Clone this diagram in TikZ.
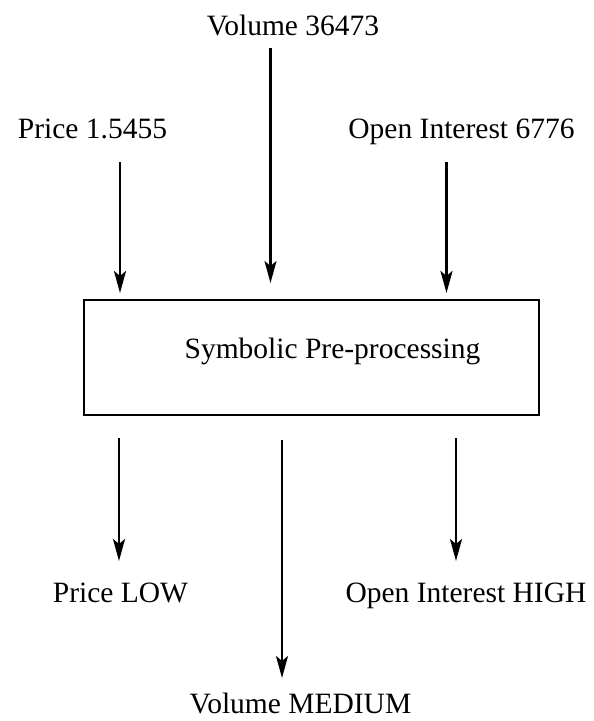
\documentclass[tikz,border=0pt]{standalone}
\usepackage{fontspec}
\setmainfont{Liberation Serif}
\usetikzlibrary{arrows.meta}
\begin{document}
\begin{tikzpicture}[x=1pt,y=-1pt,
  label/.style={inner sep=0pt,anchor=base,font=\fontsize{29.5}{34}\selectfont},
  flow/.style={line width=2.8pt,-{Stealth[length=22pt,width=12pt,inset=5pt]}},
  thinflow/.style={flow,line width=2.2pt},
  procbox/.style={draw,line width=2.2pt,inner sep=0pt}]
\useasboundingbox (0,0) rectangle (594,721);

% inputs
\node[label] (vin) at (293,35) {Volume 36473};
\node[label] (pin) at (92.5,138) {Price 1.5455};
\node[label] (oin) at (461.5,138) {Open Interest 6776};

% processing block
\node[procbox,minimum width=455pt,minimum height=115pt] (proc) at (311.5,357.5) {};
\node[label] (ptext) at (332.5,358) {Symbolic Pre-processing};

% outputs
\node[label] (pout) at (120.5,602) {Price LOW};
\node[label] (oout) at (466,602) {Open Interest HIGH};
\node[label] (vout) at (300.5,713) {Volume MEDIUM};

% arrow end points
\coordinate (v1) at (270.5,48);  \coordinate (v2) at (270.5,283);
\coordinate (p1) at (120,162);   \coordinate (p2) at (120,293);
\coordinate (o1) at (446.5,162); \coordinate (o2) at (446.5,293);
\coordinate (q1) at (119,438);   \coordinate (q2) at (119,561);
\coordinate (w1) at (282,440);   \coordinate (w2) at (282,678);
\coordinate (r1) at (456,438);   \coordinate (r2) at (456,561);

\draw[thinflow] (v1) -- (v2);
\draw[flow] (p1) -- (p2);
\draw[flow] (o1) -- (o2);
\draw[flow] (q1) -- (q2);
\draw[thinflow] (w1) -- (w2);
\draw[flow] (r1) -- (r2);
\end{tikzpicture}
\end{document}
